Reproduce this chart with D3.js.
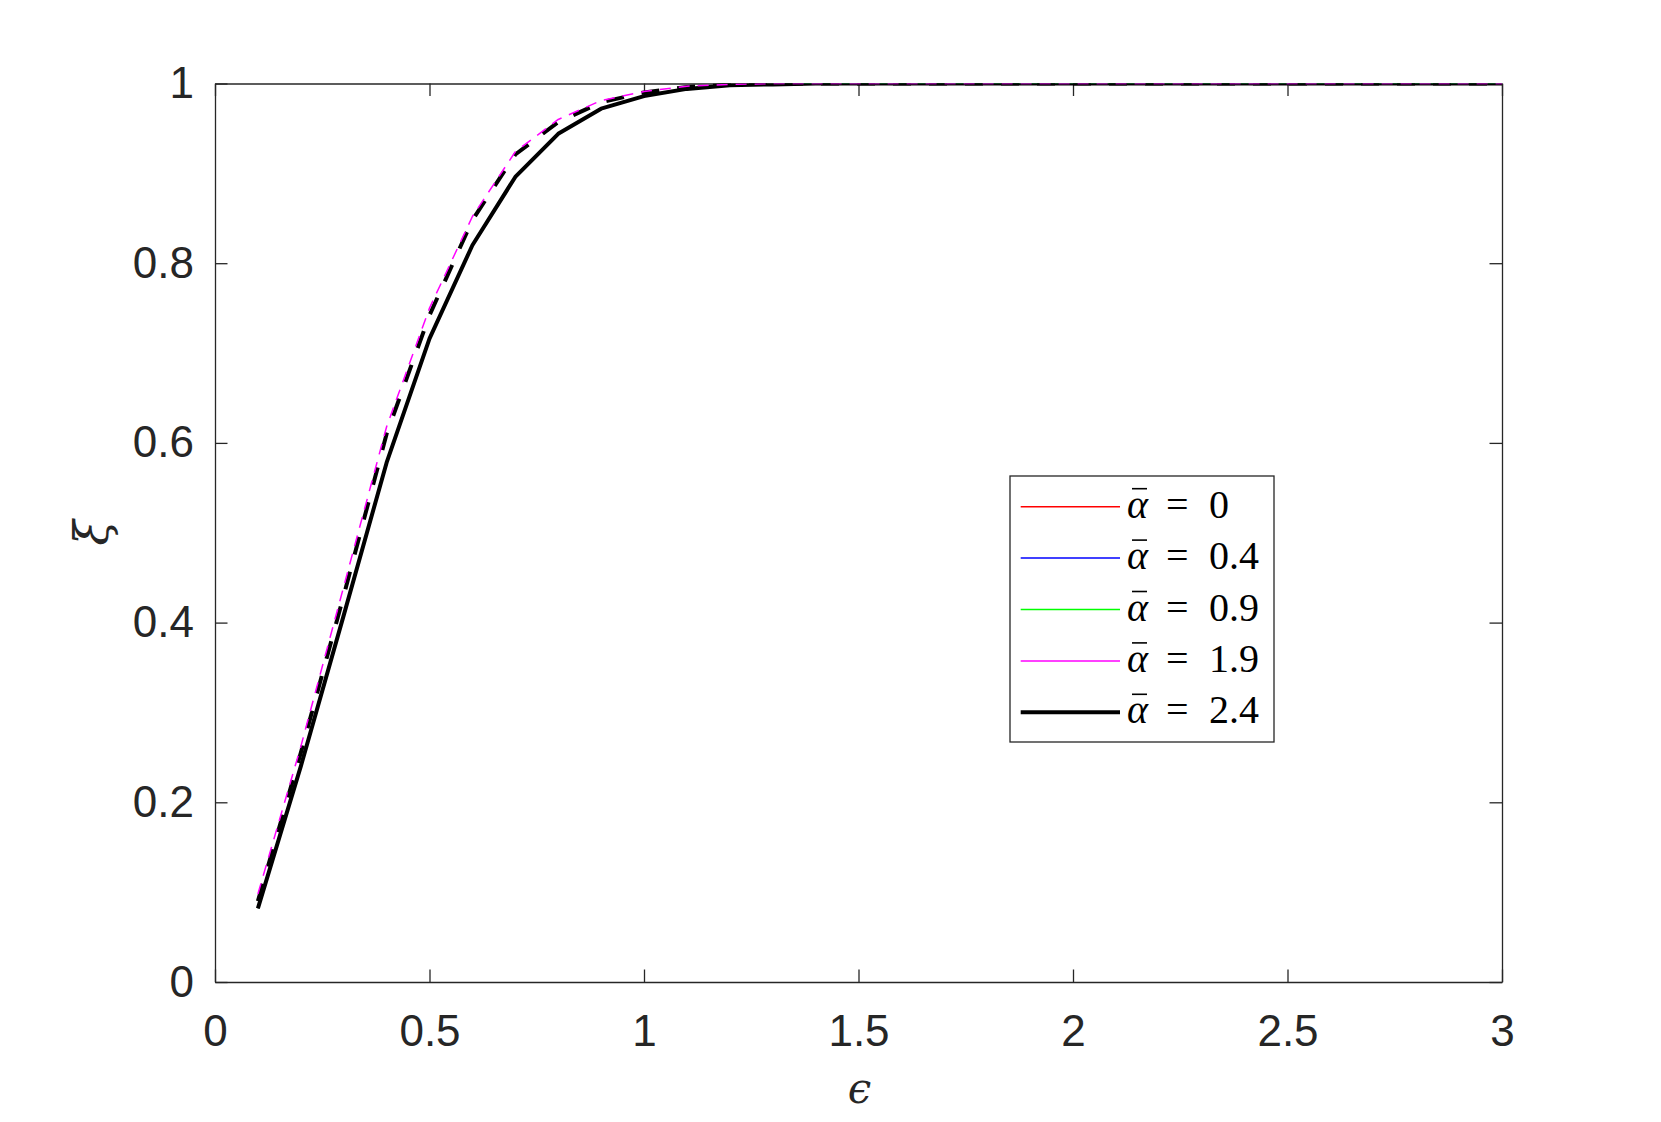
<!DOCTYPE html>
<html>
<head>
<meta charset="utf-8">
<script src="https://cdn.jsdelivr.net/npm/d3@7"></script>
<style>
  body { margin: 0; background: #fff; }
  svg { display: block; }
</style>
</head>
<body>
<svg id="chart" width="1661" height="1122"></svg>
<script>
// values
var eps = [0.1, 0.2, 0.3, 0.4, 0.5, 0.6, 0.7, 0.8, 0.9, 1.0, 1.1, 1.2, 1.3, 1.4, 1.5, 2.0, 2.5, 3.0];
var xiSolid = [0.082, 0.24, 0.408, 0.578, 0.716, 0.82, 0.896, 0.944, 0.972, 0.986, 0.994, 0.998, 0.999, 1, 1, 1, 1, 1];
var xiDashed = [0.09, 0.255, 0.43, 0.61, 0.742, 0.848, 0.921, 0.957, 0.979, 0.99, 0.996, 0.999, 1, 1, 1, 1, 1, 1];
var xiMagenta = [0.098, 0.262, 0.44, 0.618, 0.75, 0.852, 0.924, 0.96, 0.981, 0.991, 0.997, 0.999, 1, 1, 1, 1, 1, 1];

var alphaLabels = ["0", "0.4", "0.9", "1.9", "2.4"];
var alphaColors = ["#ff0000", "#0000ff", "#00ff00", "#ff00ff", "#000000"];
var alphaWidths = [1.5, 1.5, 1.5, 1.5, 4];

var xTicks = [0, 0.5, 1, 1.5, 2, 2.5, 3];
var xTickLabels = ["0", "0.5", "1", "1.5", "2", "2.5", "3"];
var yTicks = [0, 0.2, 0.4, 0.6, 0.8, 1];
var yTickLabels = ["0", "0.2", "0.4", "0.6", "0.8", "1"];

var axisColor = "#262626";
var svg = d3.select("#chart");

var x = d3.scaleLinear().domain([0, 3]).range([215, 1502]);
var y = d3.scaleLinear().domain([0, 1]).range([982, 83.5]);

svg.append("defs").append("clipPath").attr("id", "plotclip")
    .append("rect")
    .attr("x", x(0)).attr("y", y(1))
    .attr("width", x(3) - x(0)).attr("height", y(0) - y(1));

// axes (ticks pointing inward, mirrored on top/right)
function styleAxis(g) {
    g.selectAll("path.domain").attr("stroke", axisColor).attr("stroke-width", 1.3);
    g.selectAll(".tick line").attr("stroke", axisColor).attr("stroke-width", 1.3);
    g.selectAll(".tick text")
        .attr("fill", axisColor)
        .style("font-family", "Liberation Sans, Arial, sans-serif")
        .style("font-size", "44px");
}

var gx = svg.append("g").attr("transform", `translate(0,${y(0)})`)
    .call(d3.axisBottom(x).tickValues(xTicks)
        .tickFormat(function (d, i) { return xTickLabels[i]; })
        .tickSizeInner(-12.5).tickSizeOuter(0).tickPadding(33));
styleAxis(gx);

var gy = svg.append("g").attr("transform", `translate(${x(0)},0)`)
    .call(d3.axisLeft(y).tickValues(yTicks)
        .tickFormat(function (d, i) { return yTickLabels[i]; })
        .tickSizeInner(-12.5).tickSizeOuter(0).tickPadding(21));
styleAxis(gy);

var gt = svg.append("g").attr("transform", `translate(0,${y(1)})`)
    .call(d3.axisTop(x).tickValues(xTicks).tickFormat("")
        .tickSizeInner(-12.5).tickSizeOuter(0));
styleAxis(gt);

var gr = svg.append("g").attr("transform", `translate(${x(3)},0)`)
    .call(d3.axisRight(y).tickValues(yTicks).tickFormat("")
        .tickSizeInner(-12.5).tickSizeOuter(0));
styleAxis(gr);

// curves
var line = d3.line()
    .x(function (d) { return x(d[0]); })
    .y(function (d) { return y(d[1]); });

var plot = svg.append("g").attr("clip-path", "url(#plotclip)");

function drawCurve(values, color, width, dash) {
    plot.append("path")
        .datum(eps.map(function (e, i) { return [e, values[i]]; }))
        .attr("d", line)
        .attr("fill", "none")
        .attr("stroke", color)
        .attr("stroke-width", width)
        .attr("stroke-linejoin", "round")
        .attr("stroke-dasharray", dash || null);
}

// red, blue and green lie under the black curve
drawCurve(xiSolid, alphaColors[0], 1.5);
drawCurve(xiSolid, alphaColors[1], 1.5);
drawCurve(xiSolid, alphaColors[2], 1.5);
drawCurve(xiSolid, alphaColors[4], 4);
drawCurve(xiDashed, "#000000", 4, "18,18");
drawCurve(xiMagenta, alphaColors[3], 1.5, "11,8");

// axis labels
svg.append("text")
    .attr("x", (x(0) + x(3)) / 2 + 1)
    .attr("y", 1103)
    .attr("text-anchor", "middle")
    .attr("fill", axisColor)
    .style("font-family", "DejaVu Serif, serif")
    .style("font-style", "italic")
    .style("font-size", "42px")
    .text("\u03f5");

svg.append("text")
    .attr("transform", `translate(108,${(y(0) + y(1)) / 2}) rotate(-90)`)
    .attr("text-anchor", "middle")
    .attr("fill", axisColor)
    .style("font-family", "DejaVu Serif, serif")
    .style("font-style", "italic")
    .style("font-size", "46px")
    .text("\u03be");

// legend
var legX = 1010, legY = 476, legW = 264, legH = 266, rowH = 51.4;
var legend = svg.append("g").attr("transform", `translate(${legX},${legY})`);
legend.append("rect")
    .attr("width", legW).attr("height", legH)
    .attr("fill", "#fff")
    .attr("stroke", axisColor).attr("stroke-width", 1.3);

var rows = legend.selectAll("g.row").data(alphaLabels).enter().append("g")
    .attr("class", "row")
    .attr("transform", function (d, i) { return `translate(0,${30.7 + i * rowH})`; });

rows.append("line")
    .attr("x1", 10.7).attr("x2", 110)
    .attr("stroke", function (d, i) { return alphaColors[i]; })
    .attr("stroke-width", function (d, i) { return alphaWidths[i]; });

var serif = "Liberation Serif, Times New Roman, serif";
rows.append("text")
    .attr("x", 117).attr("y", 11)
    .style("font-family", serif).style("font-style", "italic").style("font-size", "40px")
    .attr("fill", "#000")
    .text("\u03b1");
rows.append("line")
    .attr("x1", 122).attr("x2", 137).attr("y1", -18).attr("y2", -18)
    .attr("stroke", "#000").attr("stroke-width", 1.6);
rows.append("text")
    .attr("x", 156).attr("y", 11)
    .style("font-family", serif).style("font-size", "40px")
    .attr("fill", "#000")
    .text("=");
rows.append("text")
    .attr("x", 199).attr("y", 11)
    .style("font-family", serif).style("font-size", "40px")
    .attr("fill", "#000")
    .text(function (d) { return d; });
</script>
</body>
</html>
